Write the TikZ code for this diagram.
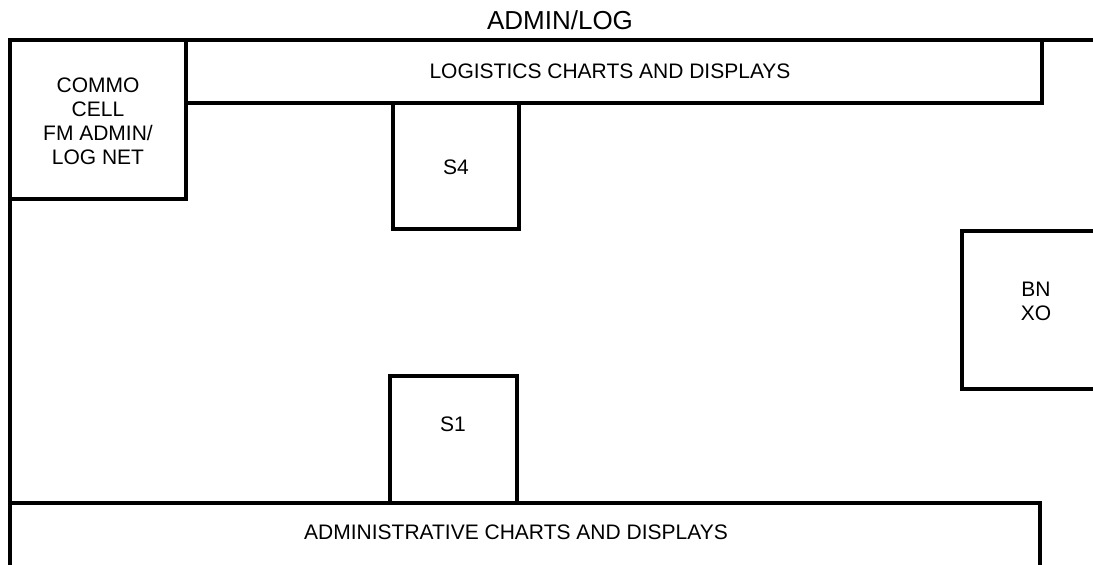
\documentclass[tikz,border=0pt]{standalone}
\usepackage{fontspec}
\setmainfont{Liberation Sans}
\usepackage{tikz}

\begin{document}
\begin{tikzpicture}[x=0.5pt, y=-0.5pt, every node/.style={font=\fontsize{10.5}{12}\selectfont, align=center}, wall/.style={line width=1.6pt, line join=miter}]
	\useasboundingbox (0,0) rectangle (1093,565);
	% outer walls
	\draw[wall] (10,565) -- (10,40) -- (1093,40);
	% work areas
	\draw[wall] (10,40) rectangle (186,199);
	\draw[wall] (186,40) rectangle (1042,103);
	\draw[wall] (393,103) rectangle (519,229);
	\draw[wall] (390,503) -- (390,376) -- (517,376) -- (517,503);
	\draw[wall] (1093,231) -- (962,231) -- (962,389) -- (1093,389);
	\draw[wall] (10,503) -- (1040,503) -- (1040,565);
	% labels
	\node[font=\fontsize{13}{15}\selectfont] (title) at (560,20) {ADMIN/LOG};
	\node (commo) at (98,121) {COMMO\\CELL\\FM ADMIN/\\LOG NET};
	\node (logcharts) at (610,71) {LOGISTICS CHARTS AND DISPLAYS};
	\node (sfour) at (456,167) {S4};
	\node (sone) at (453,424) {S1};
	\node (bnxo) at (1036,301) {BN\\XO};
	\node (admcharts) at (516,532) {ADMINISTRATIVE CHARTS AND DISPLAYS};
\end{tikzpicture}
\end{document}
